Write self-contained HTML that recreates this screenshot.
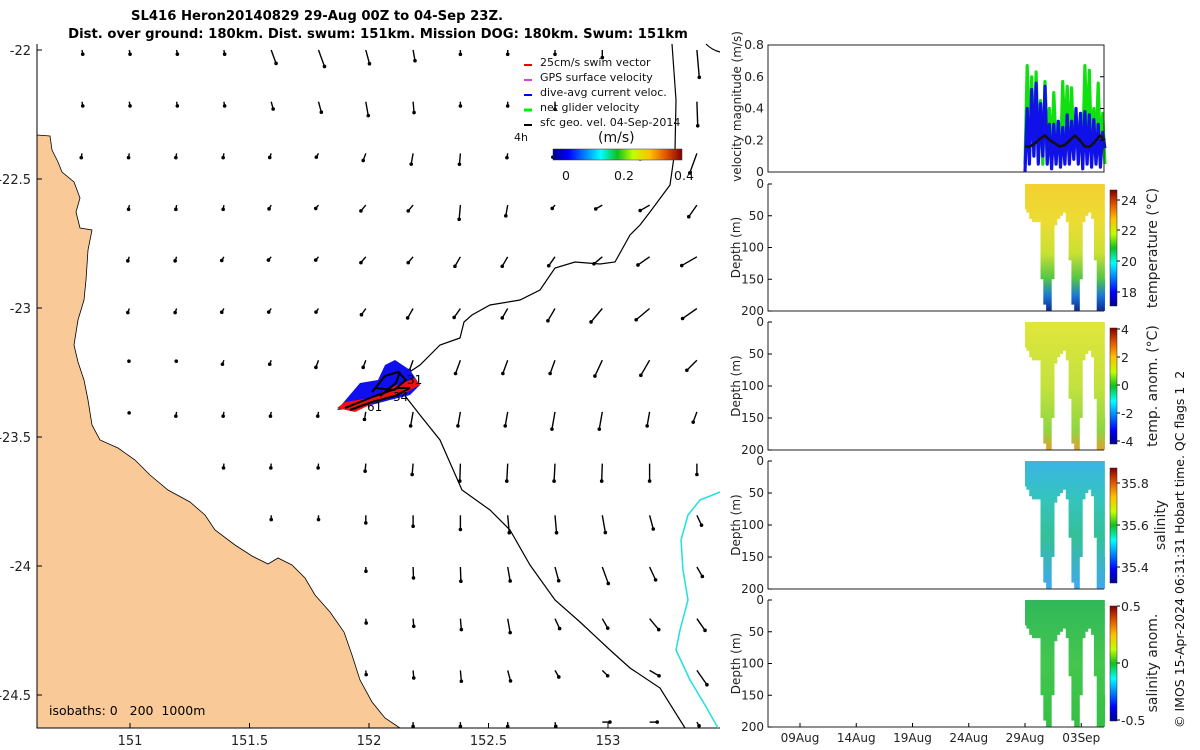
<!DOCTYPE html>
<html><head><meta charset="utf-8">
<style>
html,body{margin:0;padding:0;background:#fff;}
svg{display:block;font-family:"DejaVu Sans","Liberation Sans",sans-serif;}
</style></head>
<body>
<svg id="fig" width="1200" height="750" viewBox="0 0 1200 750" xmlns="http://www.w3.org/2000/svg">
<defs>
<linearGradient id="jetH" x1="0" x2="1" y1="0" y2="0">
<stop offset="0" stop-color="#00008f"/><stop offset="0.12" stop-color="#0000ff"/><stop offset="0.37" stop-color="#00ffff"/><stop offset="0.5" stop-color="#10c020"/><stop offset="0.62" stop-color="#c0ff00"/><stop offset="0.75" stop-color="#ffc000"/><stop offset="0.88" stop-color="#e05000"/><stop offset="1" stop-color="#800000"/></linearGradient>
<linearGradient id="jetV" x1="0" x2="0" y1="1" y2="0">
<stop offset="0" stop-color="#00008f"/><stop offset="0.12" stop-color="#0000ff"/><stop offset="0.37" stop-color="#00ffff"/><stop offset="0.5" stop-color="#10c020"/><stop offset="0.62" stop-color="#c0ff00"/><stop offset="0.75" stop-color="#ffc000"/><stop offset="0.88" stop-color="#e05000"/><stop offset="1" stop-color="#800000"/></linearGradient>
<linearGradient id="gTemp" x1="0" x2="0" y1="0" y2="1"><stop offset="0" stop-color="#f2d030"/><stop offset="0.3" stop-color="#ecdc34"/><stop offset="0.55" stop-color="#c8e034"/><stop offset="0.75" stop-color="#50c448"/><stop offset="0.88" stop-color="#1a78d8"/><stop offset="1" stop-color="#102890"/></linearGradient>
<linearGradient id="gTanom" x1="0" x2="0" y1="0" y2="1"><stop offset="0" stop-color="#e0e63c"/><stop offset="0.5" stop-color="#c4e23e"/><stop offset="0.85" stop-color="#8ed640"/><stop offset="1" stop-color="#e0a030"/></linearGradient>
<linearGradient id="gSal" x1="0" x2="0" y1="0" y2="1"><stop offset="0" stop-color="#3cb4e6"/><stop offset="0.3" stop-color="#34c4bc"/><stop offset="0.6" stop-color="#34c098"/><stop offset="1" stop-color="#40a8f0"/></linearGradient>
<linearGradient id="gSanom" x1="0" x2="0" y1="0" y2="1"><stop offset="0" stop-color="#30b85a"/><stop offset="0.5" stop-color="#44c64e"/><stop offset="1" stop-color="#34c044"/></linearGradient>
</defs>

<g font-weight="bold" font-size="13.2" text-anchor="middle">
<text x="317" y="20">SL416 Heron20140829 29-Aug 00Z to 04-Sep 23Z.</text>
<text x="378" y="38">Dist. over ground: 180km. Dist. swum: 151km. Mission DOG: 180km. Swum: 151km</text>
</g>

<g id="map">
<path fill="#f9ca98" stroke="#000" stroke-width="0.8"
d="M37,135 L50,136 L52,150 L58,162 L62,172 L74,182 L80,198 L76,212 L80,228 L92,230 L88,250 L86,280 L84,300 L78,320 L74,345 L78,362 L84,380 L88,400 L92,425 L100,440 L118,448 L135,460 L150,475 L168,490 L190,502 L205,515 L215,530 L235,545 L252,556 L268,564 L278,558 L292,565 L305,578 L315,595 L330,612 L344,632 L352,655 L360,680 L372,702 L385,718 L400,728 L37,728 Z"/>
<path d="M37,44 V728 H720" fill="none" stroke="#000" stroke-width="1"/>
<g id="mapTicks" font-size="13" fill="#222"></g>
<g id="arrows"></g>
<path fill="none" stroke="#000" stroke-width="1.2"
d="M672,44 L676,100 L675,150 L670,185 L650,212 L640,225 L630,235 L615,262 L600,264 L575,262 L555,268 L540,290 L520,300 L490,305 L472,315 L464,322 L460,338 L440,345 L420,365 L405,375 L402,392 L420,415 L440,440 L462,490 L490,510 L510,530 L530,565 L555,600 L580,622 L610,650 L630,668 L660,688 L685,728"/>
<path fill="none" stroke="#000" stroke-width="1.2" d="M706,44 Q712,50 720,52"/>
<path fill="none" stroke="#20e0e0" stroke-width="1.5"
d="M720,492 L700,500 L688,515 L681,540 L683,570 L688,600 L680,630 L676,650 L690,680 L705,705 L718,728"/>
<g>
<path d="M337,410 L360,383 L378,380 L385,365 L395,360 L410,370 L420,385 L410,395 L390,400 L360,408 Z" fill="#1010ee"/>
<path d="M337,408 L345,402 L370,398 L395,386 L415,378 L420,385 L405,393 L380,400 L355,412 Z" fill="#ee1010"/>
<path d="M345,408 L375,396 L398,388 L410,388 L395,396 L372,402 L350,410 M372,392 L385,376 L398,372 L406,380 L394,390 L375,388 M380,396 L396,383 L400,372" fill="none" stroke="#000" stroke-width="2"/>
<text x="407" y="384" font-size="12">31</text>
<text x="367" y="411" font-size="12">61</text>
<text x="393" y="401" font-size="12">34</text>
</g>
<g font-size="11" fill="#111">
<line x1="524" y1="65" x2="532" y2="65" stroke="#e00" stroke-width="2"/><text x="540" y="66">25cm/s swim vector</text>
<line x1="524" y1="80" x2="532" y2="80" stroke="#e040e0" stroke-width="2"/><text x="540" y="81">GPS surface velocity</text>
<line x1="524" y1="95" x2="532" y2="95" stroke="#00f" stroke-width="2"/><text x="540" y="96">dive-avg current veloc.</text>
<line x1="524" y1="110" x2="532" y2="110" stroke="#0e0" stroke-width="3"/><text x="540" y="111">net glider velocity</text>
<line x1="524" y1="125" x2="532" y2="125" stroke="#000" stroke-width="2"/><text x="540" y="126">sfc geo. vel. 04-Sep-2014</text>
<text x="514" y="141">4h</text>
<text x="598" y="142" font-size="14">(m/s)</text>
<rect x="553" y="149" width="129" height="11" fill="url(#jetH)" stroke="#333" stroke-width="0.5"/>
<text x="566" y="180" text-anchor="middle" font-size="12.5">0</text>
<text x="624" y="180" text-anchor="middle" font-size="12.5">0.2</text>
<text x="684" y="180" text-anchor="middle" font-size="12.5">0.4</text>
</g>
<text x="49" y="715" font-size="12.5" xml:space="preserve">isobaths: 0   200  1000m</text>
</g>

<g id="right"></g>

<text transform="translate(1184,728) rotate(-90)" font-size="12.5" fill="#111" xml:space="preserve">© IMOS 15-Apr-2024 06:31:31 Hobart time. QC flags 1  2</text>
</svg>

<script>
const NS="http://www.w3.org/2000/svg";
function mk(tag,attrs,parent,txt){const e=document.createElementNS(NS,tag);for(const k in attrs)e.setAttribute(k,attrs[k]);if(txt!==undefined)e.textContent=txt;parent.appendChild(e);return e;}

/* ---------- map data ---------- */
const lonTicks=[151,151.5,152,152.5,153];
const latTicks=[-22,-22.5,-23,-23.5,-24,-24.5];
// arrow speed per grid cell (14 columns), -1 = no arrow
const arrowMag=[
[1,1,1,1,4,5,4,3,1,1,1,2,-1,8],
[1,1,1,1,2,3,4,3,1,1,2,-1,-1,7],
[1,1,1,1,1,1,2,3,3,1,1,2,3,6],
[-1,1,1,1,1,1,2,2,4,3,1,2,3,4],
[-1,1,1,1,1,1,2,2,3,3,3,3,4,5],
[-1,1,1,1,1,1,2,3,3,3,4,5,5,5],
[-1,0,0,1,1,2,2,3,4,4,4,5,5,4],
[-1,0,1,1,1,1,2,4,4,4,5,5,4,3],
[-1,-1,-1,1,1,1,2,3,5,5,5,5,5,3],
[-1,-1,-1,-1,1,1,2,3,4,5,5,5,4,3],
[-1,-1,-1,-1,-1,-1,1,3,4,4,4,5,4,3],
[-1,-1,-1,-1,-1,-1,1,2,3,4,3,3,4,4],
[-1,-1,-1,-1,-1,-1,1,2,3,3,2,2,3,5],
[-1,-1,-1,-1,-1,-1,-1,1,1,1,1,2,2,1]];
// arrow direction per cell (degrees, screen coords, 90 = down)
const arrowDir=[
[80,80,80,80,70,70,75,80,90,90,90,90,90,85],
[80,80,80,80,75,75,80,85,90,90,90,90,90,88],
[100,100,100,100,110,120,110,100,95,100,120,150,150,110],
[100,100,100,100,120,130,130,130,95,100,130,150,150,125],
[110,110,110,120,130,130,130,130,120,120,125,140,145,150],
[110,110,110,120,125,125,125,120,125,120,120,130,140,145],
[110,110,110,110,110,110,110,110,110,110,110,115,120,135],
[100,100,100,100,100,100,100,100,100,100,100,100,100,110],
[95,95,95,95,95,95,95,95,92,93,93,92,90,90],
[90,90,90,90,90,90,90,90,90,85,85,80,75,65],
[88,88,88,88,88,88,88,88,88,80,75,70,65,60],
[85,85,85,85,85,85,85,85,85,80,65,60,50,55],
[85,85,85,85,85,85,85,85,85,75,60,45,30,55],
[90,90,90,90,90,90,90,90,90,90,80,0,0,60]];

const lonX=lon=>130+(lon-151)*239;
const latY=lat=>50+(-22-lat)*258;
const mt=document.getElementById('mapTicks');
lonTicks.forEach(v=>{const t=mk('text',{x:lonX(v),y:745,'text-anchor':'middle'},mt,String(v));


mk('line',{x1:lonX(v),x2:lonX(v),y1:728,y2:723,stroke:'#000'},mt);});
latTicks.forEach(v=>{const t=mk('text',{x:31,y:latY(v)+5,'text-anchor':'end'},mt,String(v));


mk('line',{x1:37,x2:42,y1:latY(v),y2:latY(v),stroke:'#000'},mt);});

const ag=document.getElementById('arrows');


arrowMag.forEach((row,j)=>{
  const y=50+j*51.7;
  row.forEach((m,k)=>{
    if(m<0)return;
    const x=82+47.3*k;
    const a=arrowDir[j][k]*Math.PI/180;const L=m*3.3+1;
    const x2=x+Math.cos(a)*L,y2=y+Math.sin(a)*L;
    const g=mk('g',{},ag);
    
    
    mk('line',{x1:x,y1:y,x2:x2,y2:y2,stroke:'#000','stroke-width':1.4},g);
    mk('circle',{cx:x2,cy:y2,r:1.8,fill:'#000'},g);
  });
});

/* ---------- right panels ---------- */
const X0=768,X1=1104;
const dateTicks=["09Aug","14Aug","19Aug","24Aug","29Aug","03Sep"];
const dateTickDay=[-20,-15,-10,-5,0,5]; // days relative to 29-Aug 00Z
const dayX=d=>1025+d*11.25;
const velGreen=[0.05,0.67,0.2,0.6,0.1,0.63,0.15,0.45,0.05,0.57,0.2,0.4,0.1,0.5,0.15,0.3,0.05,0.57,0.2,0.54,0.15,0.53,0.1,0.35,0.2,0.37,0.1,0.67,0.2,0.64,0.1,0.4,0.15,0.56,0.1,0.37,0.05];
const velBlue=[0.0,0.4,0.05,0.52,0.1,0.56,0.05,0.43,0.1,0.54,0.05,0.3,0.02,0.3,0.05,0.32,0.03,0.28,0.05,0.36,0.05,0.32,0.08,0.4,0.05,0.37,0.02,0.38,0.05,0.36,0.03,0.33,0.05,0.3,0.03,0.25,0.15];
const velBlack=[0.16,0.16,0.18,0.21,0.23,0.2,0.18,0.16,0.17,0.2,0.23,0.2,0.16,0.16,0.19,0.23,0.2];
const velTicks=[0,0.2,0.4,0.6,0.8];
// dive max depth per time bin (0.25 day steps from 29-Aug)
const diveDepth=[40,45,55,60,60,60,150,190,200,200,150,65,55,50,45,60,120,190,200,200,150,60,50,45,55,120,200,200,200,150];
const depthTicks=[0,50,100,150,200];

const R=document.getElementById('right');
const panels=[
 {top:45,bot:172,name:'velocity-panel'},
 {top:184,bot:311,name:'temperature-panel',fill:'url(#gTemp)',cb:{t:190,b:306,ticks:["24","22","20","18"],ty:[200,230,261,292]},title:'temperature (°C)',tx:1157,tyc:248},
 {top:322,bot:450,name:'temp-anomaly-panel',fill:'url(#gTanom)',cb:{t:328,b:444,ticks:["4","2","0","-2","-4"],ty:[329,357,385,413,441]},title:'temp. anom. (°C)',tx:1157,tyc:386},
 {top:461,bot:589,name:'salinity-panel',fill:'url(#gSal)',cb:{t:468,b:583,ticks:["35.8","35.6","35.4"],ty:[483,525,567]},title:'salinity',tx:1165,tyc:525},
 {top:600,bot:727,name:'salinity-anomaly-panel',fill:'url(#gSanom)',cb:{t:606,b:721,ticks:["0.5","0","-0.5"],ty:[606,663,720]},title:'salinity anom.',tx:1157,tyc:663}
];
panels.forEach((p,i)=>{
  const g=mk('g',{},R);
  
  
  const h=p.bot-p.top;
  if(i===0){
    const vy=v=>p.bot-v/0.8*h;
    const span=7.1;
    const line=(arr,col,w)=>{let d='';arr.forEach((v,k)=>{d+=(k?'L':'M')+dayX(k*span/(arr.length-1)).toFixed(1)+','+vy(v).toFixed(1);});
      return mk('path',{d:d,fill:'none',stroke:col,'stroke-width':w,'stroke-linejoin':'round'},g);};
    const gl=line(velGreen,'#10e010',3.2);
    const bl=line(velBlue,'#1010e8',3.2);
    const kl=line(velBlack,'#111',2.5);
    velTicks.forEach(v=>{const t=mk('text',{x:764,y:vy(v)+4,'text-anchor':'end','font-size':12.5,fill:'#222'},g,String(v));
      
      mk('line',{x1:X1-4,x2:X1,y1:vy(v),y2:vy(v),stroke:'#000'},g);});
    mk('rect',{x:X0,y:p.top,width:X1-X0,height:h,fill:'none',stroke:'#222','stroke-width':1},g);
    const yt=mk('text',{transform:'translate(741,'+(p.top+h/2-2)+') rotate(-90)','text-anchor':'middle','font-size':12,fill:'#222'},g,'velocity magnitude (m/s)');
    
  } else {
    const dy=d=>p.top+d/200*h;
    const step=0.25;
    let d='M'+dayX(0)+','+p.top;
    diveDepth.forEach((v,k)=>{const xa=dayX(Math.max(k*step-step/2,0)),xb=dayX(Math.min(k*step+step/2,7.1));d+='L'+xa.toFixed(1)+','+dy(v).toFixed(1)+'L'+xb.toFixed(1)+','+dy(v).toFixed(1);});
    d+='L'+dayX(7.1)+','+p.top+'Z';
    const s=mk('path',{d:d,fill:p.fill},g);
    
    mk('path',{d:'M'+X0+','+p.top+'V'+p.bot+'H'+X1,fill:'none',stroke:'#222','stroke-width':1},g);
    depthTicks.forEach(v=>{const t=mk('text',{x:764,y:dy(v)+4,'text-anchor':'end','font-size':12,fill:'#222'},g,String(v));
      
      mk('line',{x1:X0,x2:X0+4,y1:dy(v),y2:dy(v),stroke:'#000'},g);});
    const yt=mk('text',{transform:'translate(740,'+(p.top+h/2)+') rotate(-90)','text-anchor':'middle','font-size':12,fill:'#222'},g,'Depth (m)');
    
    const cb=mk('rect',{x:1110,y:p.cb.t,width:7,height:p.cb.b-p.cb.t,fill:'url(#jetV)',stroke:'#222','stroke-width':0.5},g);
    
    p.cb.ticks.forEach((lab,k)=>{const t=mk('text',{x:1121,y:p.cb.ty[k]+5,'font-size':12.5,fill:'#222'},g,lab);
      
      mk('line',{x1:1117,x2:1120,y1:p.cb.ty[k],y2:p.cb.ty[k],stroke:'#000'},g);});
    const ct=mk('text',{transform:'translate('+p.tx+','+p.tyc+') rotate(-90)','text-anchor':'middle','font-size':14,fill:'#222'},g,p.title);
    
    if(i===4){
      dateTicks.forEach((lab,k)=>{const x=dayX(dateTickDay[k]);
        mk('line',{x1:x,x2:x,y1:p.bot,y2:p.bot-4,stroke:'#000'},g);
        const t=mk('text',{x:x,y:p.bot+15,'text-anchor':'middle','font-size':12,fill:'#222'},g,lab);
        });
    }
  }
});
</script>
</body></html>
